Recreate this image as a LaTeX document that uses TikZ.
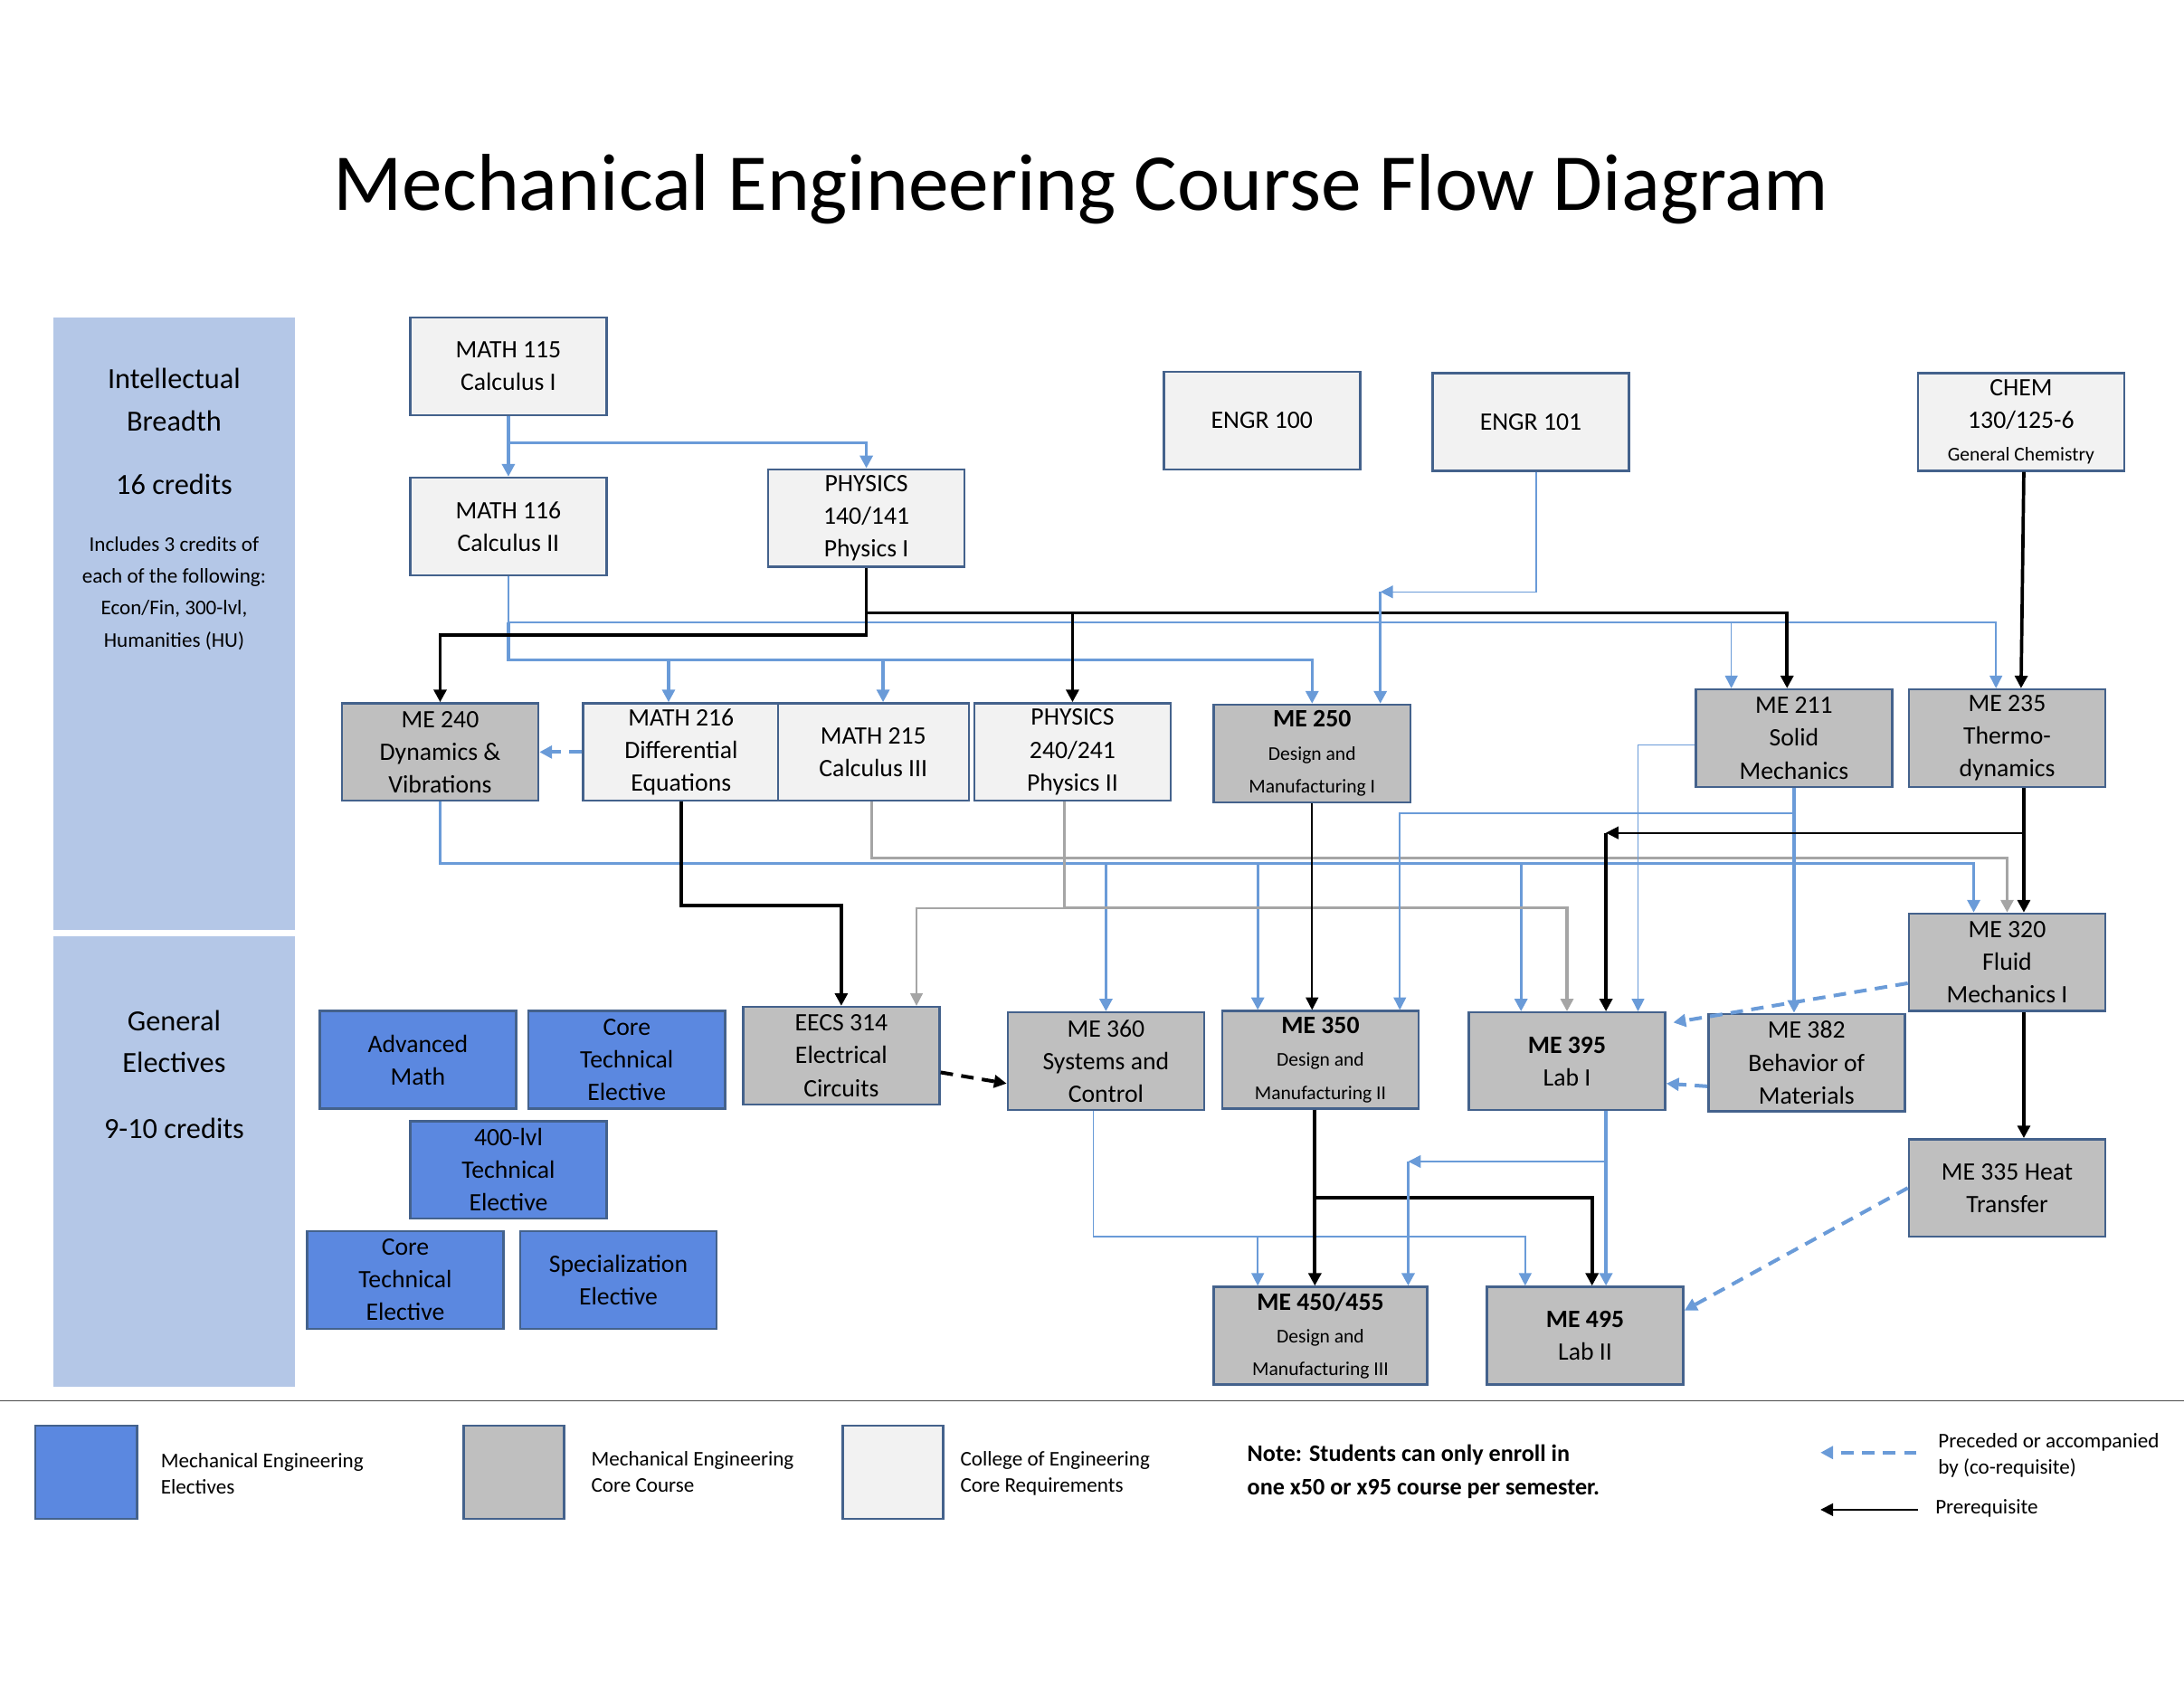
\documentclass[tikz,border=0pt]{standalone}
\usepackage{fontspec}
\setmainfont{Carlito}
\usetikzlibrary{arrows.meta}
\definecolor{edge}{RGB}{68,98,140}
\definecolor{melec}{RGB}{91,136,224}
\definecolor{mcore}{RGB}{191,191,191}
\definecolor{coe}{RGB}{242,242,242}
\definecolor{panel}{RGB}{180,199,231}
\definecolor{lnk}{RGB}{106,155,216}
\definecolor{gry}{RGB}{165,165,165}
\tikzset{
  box/.style={draw=edge,line width=1.6pt,minimum width=141pt,minimum height=70pt,
    inner sep=1pt,align=center,font=\fontsize{18}{23.5}\selectfont},
  elec/.style={box,fill=melec},
  core/.style={box,fill=mcore},
  base/.style={box,fill=coe},
  tip/.style={-{Triangle[width=9pt,length=9pt]}},
  bl/.style={tip,draw=lnk,line width=2.2pt},
  blt/.style={tip,draw=lnk,line width=1pt},
  bk/.style={tip,draw=black,line width=2.4pt},
  bkt/.style={tip,draw=black,line width=1.2pt},
  gr/.style={tip,draw=gry,line width=2.2pt},
  grt/.style={tip,draw=gry,line width=1pt},
  co/.style={tip,draw=lnk,line width=2.6pt,dash pattern=on 9pt off 6pt},
  sm/.style={font=\fontsize{15}{19}\selectfont},
}
\newcommand{\sub}[1]{{\fontsize{14}{20}\selectfont #1}}
\begin{document}
\begin{tikzpicture}[x=1pt,y=-1pt]
\useasboundingbox (0,0) rectangle (1568,1212);
% title
\node (title) at (776,136) {\fontsize{58}{60}\selectfont Mechanical Engineering Course Flow Diagram};
% side panels
\fill[panel] (38,228) rectangle (212,668);
\fill[panel] (38,672) rectangle (212,996);
\node[align=center,font=\fontsize{21}{30}\selectfont] (ib) at (125,287) {Intellectual\\Breadth};
\node[font=\fontsize{21}{25}\selectfont] (ibc) at (125,348) {16 credits};
\node[align=center,sm,font=\fontsize{15}{23}\selectfont] (ibn) at (125,426) {Includes 3 credits of\\each of the following:\\Econ/Fin, 300-lvl,\\Humanities (HU)};
\node[align=center,font=\fontsize{21}{30}\selectfont] (ge) at (125,748) {General\\Electives};
\node[font=\fontsize{21}{25}\selectfont] (gec) at (125,810) {9-10 credits};

% course boxes
\node[base] (m115) at (365,263) {MATH 115\\Calculus I};
\node[base] (m116) at (365,378) {MATH 116\\Calculus II};
\node[base] (p140) at (622,372) {PHYSICS\\140/141\\Physics I};
\node[base] (e100) at (906,302) {ENGR 100};
\node[base] (e101) at (1099,303) {ENGR 101};
\node[base,minimum width=148pt] (chem) at (1451,303) {CHEM\\130/125-6\\\sub{General Chemistry}};
\node[core] (me240) at (316,540) {ME 240\\Dynamics \&\\Vibrations};
\node[base] (m216) at (489,540) {MATH 216\\Differential\\Equations};
\node[base,minimum width=137pt] (m215) at (627,540) {MATH 215\\Calculus III};
\node[base] (p240) at (770,540) {PHYSICS\\240/241\\Physics II};
\node[core] (me250) at (942,541) {\textbf{ME 250}\\\sub{Design and}\\\sub{Manufacturing I}};
\node[core] (me211) at (1288,530) {ME 211\\Solid\\Mechanics};
\node[core] (me235) at (1441,530) {ME 235\\Thermo-\\dynamics};
\node[core] (me320) at (1441,691) {ME 320\\Fluid\\Mechanics I};
\node[core] (ee314) at (604,758) {EECS 314\\Electrical\\Circuits};
\node[core] (me360) at (794,762) {ME 360\\Systems and\\Control};
\node[core] (me350) at (948,761) {\textbf{ME 350}\\\sub{Design and}\\\sub{Manufacturing II}};
\node[core] (me395) at (1125,762) {\textbf{ME 395}\\Lab I};
\node[core] (me382) at (1297,763) {ME 382\\Behavior of\\Materials};
\node[core] (me335) at (1441,853) {ME 335 Heat\\Transfer};
\node[core,minimum width=153pt] (me450) at (948,959) {\textbf{ME 450/455}\\\sub{Design and}\\\sub{Manufacturing III}};
\node[core] (me495) at (1138,959) {\textbf{ME 495}\\Lab II};
% electives
\node[elec] (advm) at (300,761) {Advanced\\Math};
\node[elec] (cte1) at (450,761) {Core\\Technical\\Elective};
\node[elec] (lvl400) at (365,840) {400-lvl\\Technical\\Elective};
\node[elec] (cte2) at (291,919) {Core\\Technical\\Elective};
\node[elec] (spec) at (444,919) {Specialization\\Elective};

% connectors
\draw[bl] (m115.south) -- (m116.north);
\draw[bl] (m115.south |- 0,318) -| (p140.north);
\draw[blt] (m116.south) -- (365,447) -| ([xshift=-8]me235.north);
\draw[blt] (1243,447) -- ([xshift=-45]me211.north);
\draw[bl] (365,447) -- (365,474) -| (me250.north);
\draw[bl] (480,474) -- ([xshift=-9]m216.north);
\draw[bl] (634,474) -- ([xshift=7]m215.north);
\draw[bk] (p140.south) -- (622,440) -| ([xshift=-5]me211.north);
\draw[bk] (770,440) -- (p240.north);
\draw[bk] (622,440) -- (622,456) -| (me240.north);
\draw[blt] (e101.south) ++(4,0) -- (1103,425) -- (991,425);
\draw[bl] (991,425) -- ([xshift=49]me250.north);
\draw[bk] ([xshift=2]chem.south) -- ([xshift=10]me235.north);
\draw[co] (m216.west) -- (me240.east);
\draw[bl] (me240.south) -- (316,620) -| (me360.north);
\draw[bl] (794,620) -- (1417,620) -- ([xshift=-24]me320.north);
\draw[bl] (903,620) -- ([xshift=-45]me350.north);
\draw[bl] (1092,620) -- ([xshift=-33]me395.north);
\draw[bk] (m216.south) -- (489,650) -| (ee314.north);
\draw[gr] ([xshift=-1]m215.south) -- (626,616) -| (me320.north);
\draw[gr] ([xshift=-6]p240.south) -- (764,652) -| (me395.north);
\draw[grt] (764,652) -- (658,652) -- ([xshift=54]ee314.north);
\draw[bkt] (me250.south) -- ([xshift=-6]me350.north);
\draw[blt] (me211.west) ++(0,5) -- (1176,535) -- ([xshift=51]me395.north);
\draw[bl] (me211.south) -- ([xshift=-9]me382.north);
\draw[blt] (1288,584) -- (1005,584) -- ([xshift=57]me350.north);
\draw[bk] ([xshift=12]me235.south) -- ([xshift=12]me320.north);
\draw[bkt] (1453,598) -- (1153,598);
\draw[bk] (1153,598) -- ([xshift=28]me395.north);
\draw[co] ([yshift=-15]me320.west) -- ([xshift=5,yshift=-8]me395.north east);
\draw[co] ([yshift=-17]me382.west) -- ([yshift=-16]me395.east);
\draw[bk] ([xshift=12]me320.south) -- ([xshift=12]me335.north);
\draw[co] (me335.west) -- ([yshift=18]me495.east);
\draw[tip,draw=black,line width=2.6pt,dash pattern=on 9pt off 6pt] ([yshift=-12]ee314.east) -- ([yshift=-16]me360.west);
\draw[blt] ([xshift=-9]me360.south) -- (785,888) -| ([xshift=-43]me495.north);
\draw[blt] (903,888) -- ([xshift=-45]me450.north);
\draw[bk] ([xshift=-4]me350.south) -- ([xshift=-4]me450.north);
\draw[bk] (944,860) -- (1143,860) -- ([xshift=5]me495.north);
\draw[bl] ([xshift=28]me395.south) -- ([xshift=15]me495.north);
\draw[blt] (1153,834) -- (1011,834);
\draw[bl] (1011,834) -- ([xshift=63]me450.north);

% legend
\draw[line width=0.8pt,black!70] (0,1006) -- (1568,1006);
\node[elec,minimum width=73pt,minimum height=67pt] (kelec) at (62,1057) {};
\node[core,minimum width=72pt,minimum height=67pt] (kcore) at (369,1057) {};
\node[base,minimum width=72pt,minimum height=67pt] (kbase) at (641,1057) {};
\node[anchor=west,align=left,sm] (telec) at (112,1058) {Mechanical Engineering\\Electives};
\node[anchor=west,align=left,sm] (tcore) at (421,1057) {Mechanical Engineering\\Core Course};
\node[anchor=west,align=left,sm] (tbase) at (686,1058) {College of Engineering\\Core Requirements};
\node[anchor=west,align=left,font=\bfseries\fontsize{17}{24}\selectfont] (note) at (892,1057) {Note: Students can only enroll in\\one x50 or x95 course per semester.};
\node[anchor=west,align=left,sm] (tco) at (1388,1045) {Preceded or accompanied\\by (co-requisite)};
\node[anchor=west,sm] (tpre) at (1386,1083) {Prerequisite};
\coordinate (kco) at (1376,1043);
\coordinate (kpre) at (1377,1084);
\draw[co] (kco) -- ++(-69,0);
\draw[bkt] (kpre) -- ++(-70,0);
\end{tikzpicture}
\end{document}
